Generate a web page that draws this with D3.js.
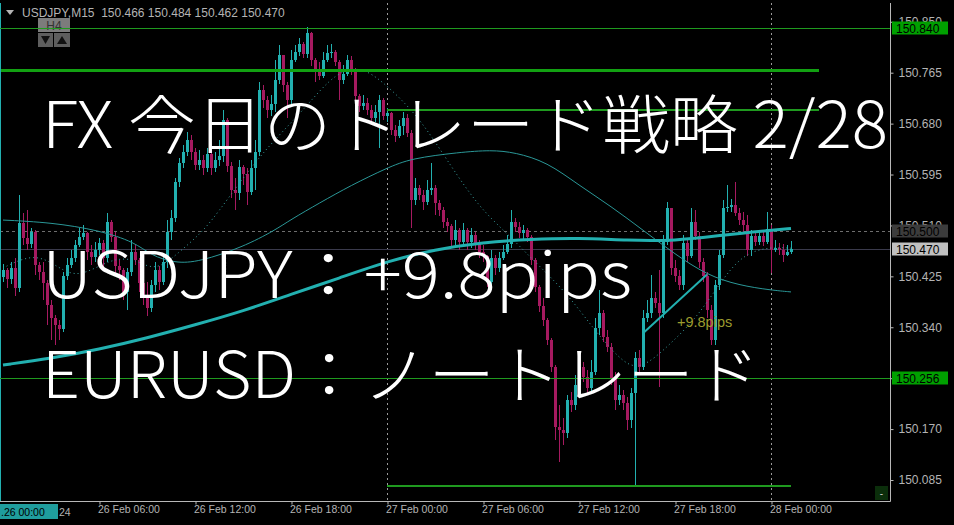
<!DOCTYPE html>
<html><head><meta charset="utf-8">
<script src="https://cdn.jsdelivr.net/npm/d3@7/dist/d3.min.js"></script>
<style>html,body{margin:0;padding:0;background:#000;overflow:hidden}</style>
</head><body>
<svg id="c" width="954" height="525"></svg>
<script>
// ---------- data (USDJPY M15) ----------
const symbolHeader = "USDJPY,M15  150.466 150.484 150.462 150.470";
const firstOpen = 150.424;
const closes = [
150.435,150.420,150.439,150.405,150.514,150.489,150.479,150.499,150.444,150.432,
150.414,150.377,150.355,150.344,150.337,150.425,150.444,150.455,150.477,150.490,
150.497,150.465,150.457,150.469,150.480,150.455,150.515,150.490,150.442,150.435,
150.399,150.432,150.465,150.452,150.414,150.389,150.372,150.410,150.435,150.416,
150.449,150.499,150.522,150.582,150.614,150.632,150.652,150.632,150.611,150.619,
150.606,150.629,150.606,150.619,150.626,150.686,150.609,150.569,150.564,150.607,
150.596,150.566,150.606,150.632,150.736,150.719,150.702,150.712,150.752,150.794,
150.744,150.719,150.786,150.799,150.813,150.796,150.831,150.786,150.766,150.759,
150.786,150.798,150.799,150.783,150.752,150.763,150.786,150.769,150.726,150.709,
150.714,150.702,150.689,150.699,150.719,150.692,150.697,150.669,150.659,150.676,
150.689,150.664,150.552,150.572,150.561,150.549,150.569,150.572,150.547,150.535,
150.515,150.509,150.485,150.502,150.482,150.502,150.482,150.494,150.480,150.465,
150.459,150.416,150.455,150.439,150.455,150.465,150.479,150.515,150.507,150.497,
150.502,150.490,150.452,150.407,150.375,150.352,150.318,150.273,150.173,150.168,
150.163,150.218,150.210,150.243,150.273,150.257,150.238,150.265,150.338,150.364,
150.324,150.307,150.255,150.218,150.227,150.213,150.185,150.230,150.288,150.273,
150.355,150.364,150.389,150.380,150.364,150.482,150.539,150.439,150.425,150.410,
150.480,150.459,150.515,150.492,150.449,150.425,150.369,150.318,150.410,150.460,
150.539,150.540,150.544,150.530,150.519,150.510,150.469,150.492,150.482,150.492,
150.482,150.504,150.469,150.472,150.469,150.460,150.466,150.470];
const highs = [
150.445,150.439,150.449,150.455,150.561,150.530,150.535,150.505,150.502,150.449,
150.449,150.419,150.385,150.360,150.352,150.432,150.455,150.469,150.485,150.505,
150.510,150.499,150.477,150.482,150.489,150.485,150.530,150.519,150.499,150.452,
150.439,150.439,150.485,150.477,150.455,150.422,150.416,150.419,150.449,150.442,
150.460,150.519,150.535,150.589,150.622,150.644,150.666,150.661,150.639,150.636,
150.627,150.639,150.636,150.632,150.652,150.702,150.689,150.616,150.589,150.619,
150.611,150.606,150.619,150.652,150.749,150.744,150.726,150.727,150.786,150.811,
150.794,150.749,150.803,150.811,150.823,150.816,150.841,150.833,150.789,150.783,
150.799,150.811,150.813,150.803,150.786,150.778,150.794,150.793,150.773,150.729,
150.727,150.722,150.711,150.711,150.727,150.722,150.706,150.699,150.677,150.686,
150.699,150.696,150.669,150.589,150.577,150.569,150.586,150.614,150.577,150.552,
150.540,150.522,150.512,150.519,150.505,150.514,150.505,150.505,150.499,150.485,
150.477,150.460,150.469,150.460,150.465,150.477,150.494,150.535,150.522,150.515,
150.510,150.505,150.494,150.455,150.410,150.389,150.355,150.322,150.277,150.210,
150.188,150.227,150.232,150.260,150.288,150.282,150.268,150.285,150.355,150.402,
150.369,150.335,150.313,150.265,150.243,150.235,150.223,150.238,150.298,150.302,
150.369,150.385,150.427,150.399,150.435,150.494,150.549,150.539,150.452,150.435,
150.494,150.485,150.539,150.535,150.499,150.455,150.432,150.377,150.419,150.469,
150.552,150.577,150.554,150.582,150.539,150.532,150.527,150.502,150.499,150.502,
150.499,150.532,150.510,150.485,150.480,150.479,150.477,150.484];
const lows = [
150.415,150.405,150.412,150.392,150.399,150.477,150.469,150.472,150.427,150.419,
150.385,150.344,150.318,150.310,150.318,150.332,150.419,150.439,150.449,150.474,
150.485,150.452,150.444,150.449,150.460,150.439,150.449,150.482,150.427,150.419,
150.385,150.369,150.425,150.444,150.399,150.377,150.358,150.365,150.399,150.402,
150.410,150.439,150.485,150.515,150.575,150.606,150.626,150.619,150.602,150.602,
150.594,150.599,150.594,150.599,150.609,150.616,150.599,150.556,150.535,150.552,
150.577,150.544,150.561,150.569,150.626,150.706,150.689,150.692,150.699,150.746,
150.732,150.689,150.712,150.783,150.793,150.789,150.789,150.776,150.749,150.752,
150.756,150.783,150.789,150.776,150.719,150.746,150.759,150.761,150.719,150.699,
150.702,150.694,150.677,150.682,150.639,150.686,150.682,150.661,150.649,150.656,
150.661,150.657,150.505,150.544,150.552,150.535,150.544,150.561,150.527,150.525,
150.505,150.499,150.472,150.477,150.469,150.475,150.469,150.472,150.469,150.455,
150.449,150.407,150.402,150.427,150.432,150.452,150.462,150.472,150.499,150.489,
150.485,150.482,150.444,150.399,150.365,150.342,150.310,150.265,150.151,150.115,
150.143,150.155,150.198,150.202,150.235,150.248,150.227,150.232,150.260,150.327,
150.315,150.298,150.243,150.202,150.210,150.202,150.168,150.171,150.075,150.265,
150.268,150.348,150.355,150.372,150.240,150.355,150.477,150.427,150.416,150.402,
150.402,150.449,150.455,150.485,150.439,150.416,150.355,150.310,150.310,150.402,
150.455,150.532,150.532,150.525,150.510,150.499,150.459,150.459,150.475,150.477,
150.475,150.479,150.430,150.465,150.460,150.449,150.459,150.462];

// moving averages (bar index -> price)
const maSlowBars = [0,12,24,36,48,60,72,84,96,108,120,132,144,156,168,180,192,197];
const maSlowVals = [150.277,150.288,150.303,150.322,150.344,150.367,150.395,150.422,150.450,150.470,150.482,150.487,150.489,150.485,150.484,150.494,150.502,150.505];
const maMidBars = [0,12,24,33,37,43,49,60,68,72,79,87,96,102,114,122,128,136,144,152,160,168,176,184,192,197];
const maMidVals = [150.519,150.515,150.502,150.482,150.460,150.447,150.449,150.474,150.502,150.520,150.547,150.577,150.606,150.622,150.632,150.636,150.632,150.616,150.577,150.542,150.502,150.462,150.427,150.410,150.402,150.399];
const maFastBars = [0,8,14,19,27,33,38,44,49,53,64,74,82,87,91,96,104,111,119,126,133,141,148,154,159,167,174,181,186,192,197];
const maFastVals = [150.439,150.465,150.439,150.422,150.455,150.455,150.432,150.465,150.494,150.524,150.627,150.694,150.758,150.773,150.769,150.744,150.691,150.619,150.540,150.497,150.449,150.397,150.334,150.288,150.265,150.313,150.360,150.432,150.465,150.474,150.472];

// horizontal levels
const levelPrices = [150.840, 150.769, 150.702, 150.256, 150.075];
const levelLabels = ["150.840", null, null, "150.256", null];
const dashedLevel = 150.500;
const bidPrice = 150.470;

// trade
const tradeBars = [160, 176];
const tradePrices = [150.330, 150.428];
const tradeLabel = "+9.8pips";

// axes
const priceTicks = [150.850,150.765,150.680,150.595,150.510,150.425,150.340,150.255,150.170,150.085];
const hiddenTickLabels = [150.255];
const timeTickBars = [24,48,72,96,120,144,168,192];
const timeTickLabels = ["26 Feb 06:00","26 Feb 12:00","26 Feb 18:00","27 Feb 00:00","27 Feb 06:00","27 Feb 12:00","27 Feb 18:00","28 Feb 00:00"];
const daySeparatorBars = [96,192];

const titleLines = ["FX 今日のトレード戦略 2/28", "USDJPY：+9.8pips", "EURUSD：ノートレード"];

// ---------- drawing ----------
const svg = d3.select("#c");
const plotRight = 890, plotBottom = 501, plotTop = 3;
const x = d3.scaleLinear().domain([0,197]).range([3,791]);
const y = d3.scaleLinear().domain([150.085,150.765]).range([480,72.7]);
const BULL = "#22b0b0", BEAR = "#a61a60";
const FONT = "Liberation Sans, Arial, sans-serif";

svg.append("rect").attr("width",954).attr("height",525).attr("fill","#000");
svg.append("defs").append("clipPath").attr("id","plot")
  .append("rect").attr("x",0).attr("y",plotTop).attr("width",plotRight).attr("height",plotBottom-plotTop);
const g = svg.append("g").attr("clip-path","url(#plot)");

// day separators
g.selectAll("line.sep").data(daySeparatorBars).join("line")
  .attr("x1",d=>x(d)+0.5).attr("x2",d=>x(d)+0.5).attr("y1",plotTop).attr("y2",plotBottom)
  .attr("stroke","#9a9a9a").attr("stroke-width",1).attr("stroke-dasharray","2,3");

// dashed level & bid
g.append("line").attr("x1",0).attr("x2",plotRight).attr("y1",Math.round(y(dashedLevel))+0.5).attr("y2",Math.round(y(dashedLevel))+0.5)
  .attr("stroke","#6e6e6e").attr("stroke-dasharray","3,3");
g.append("line").attr("x1",0).attr("x2",plotRight).attr("y1",Math.round(y(bidPrice))+0.5).attr("y2",Math.round(y(bidPrice))+0.5)
  .attr("stroke","#3a3a4c");

// candles
const bars = closes.map((c,i)=>({i, o: i ? closes[i-1] : firstOpen, h: highs[i], l: lows[i], c}));
const cg = g.append("g").attr("shape-rendering","crispEdges");
cg.selectAll("rect.w").data(bars).join("rect")
  .attr("x",d=>x(d.i)).attr("width",1)
  .attr("y",d=>y(d.h)).attr("height",d=>Math.max(1,y(d.l)-y(d.h)))
  .attr("fill",d=>d.c>=d.o?BULL:BEAR);
cg.selectAll("rect.b").data(bars).join("rect")
  .attr("x",d=>x(d.i)-1).attr("width",3)
  .attr("y",d=>y(Math.max(d.o,d.c))).attr("height",d=>Math.max(1,Math.abs(y(d.o)-y(d.c))))
  .attr("fill",d=>d.c>=d.o?BULL:BEAR);

// moving averages
const line = d3.line().x(d=>x(d[0])).y(d=>y(d[1])).curve(d3.curveBasis);
g.append("path").attr("d",line(maMidBars.map((b,k)=>[b,maMidVals[k]])))
  .attr("fill","none").attr("stroke","#2a9797").attr("stroke-width",1);
g.append("path").attr("d",line(maFastBars.map((b,k)=>[b,maFastVals[k]])))
  .attr("fill","none").attr("stroke","#3aa3a3").attr("stroke-width",1).attr("stroke-dasharray","1,3");
g.append("path").attr("d",line(maSlowBars.map((b,k)=>[b,maSlowVals[k]])))
  .attr("fill","none").attr("stroke","#22b0b0").attr("stroke-width",3);

// left vertical line (26 Feb 00:00)
g.append("line").attr("x1",x(-1)+1).attr("x2",x(-1)+1).attr("y1",plotTop).attr("y2",plotBottom)
  .attr("stroke","#22b0b0").attr("stroke-width",2);

// green levels
const levelSpan = [[-1,224],[-0.5,204],[96,204],[-1,224],[96,197]];
const levelWidth = [1,3,2,1,2];
const levelColor = ["#1f9a1f","#12a012","#1f9a1f","#1f9a1f","#1f9a1f"];
levelPrices.forEach((p,k)=>{
  const yy = Math.round(y(p)) + (levelWidth[k]%2 ? 0.5 : 0);
  g.append("line").attr("x1",x(levelSpan[k][0])).attr("x2",Math.min(plotRight,x(levelSpan[k][1])))
    .attr("y1",yy).attr("y2",yy).attr("stroke",levelColor[k]).attr("stroke-width",levelWidth[k]);
});

// trade line and label
g.append("line").attr("x1",x(tradeBars[0])).attr("y1",y(tradePrices[0]))
  .attr("x2",x(tradeBars[1])).attr("y2",y(tradePrices[1]))
  .attr("stroke","#22b0b0").attr("stroke-width",2);
g.append("text").attr("x",x(168.5)).attr("y",y(150.341)).text(tradeLabel)
  .attr("fill","#9c9c2e").attr("font-family",FONT).attr("font-size",14.5);

// big overlay text
const big = [{x:42,yb:148,w:846},{x:42,yb:298,w:590},{x:42,yb:398,w:718}];
titleLines.forEach((t,k)=>{
  svg.append("text").attr("x",big[k].x).attr("y",big[k].yb).text(t)
    .attr("fill","#fff").attr("font-family","'Noto Sans CJK JP', 'Noto Sans', sans-serif")
    .attr("font-weight",300).attr("font-size",64)
    .attr("textLength",big[k].w).attr("lengthAdjust","spacingAndGlyphs");
});

// axes frame
svg.append("line").attr("x1",plotRight+0.5).attr("x2",plotRight+0.5).attr("y1",plotTop).attr("y2",plotBottom+0.5)
  .attr("stroke","#b8b8b8");
svg.append("line").attr("x1",0).attr("x2",plotRight+0.5).attr("y1",plotBottom+0.5).attr("y2",plotBottom+0.5)
  .attr("stroke","#b8b8b8");

// right price axis
const ya = svg.append("g").attr("transform",`translate(${plotRight+0.5},0)`)
  .call(d3.axisRight(y).tickValues(priceTicks).tickSize(3).tickPadding(5)
    .tickFormat(d=>hiddenTickLabels.includes(d)?"":d3.format(".3f")(d)));
ya.select(".domain").remove();
ya.selectAll("line").attr("stroke","#b8b8b8");
ya.selectAll("text").attr("fill","#b4b4b4").attr("font-family",FONT).attr("font-size",12);

// price boxes
const boxes = [
  {p:levelPrices[0], t:levelLabels[0], bg:"#00a000", fg:"#000"},
  {p:dashedLevel, t:"150.500", bg:"#3c3c3c", fg:"#000"},
  {p:bidPrice, t:"150.470", bg:"#c0c0c0", fg:"#000"},
  {p:levelPrices[3], t:levelLabels[3], bg:"#00a000", fg:"#000"}
];
boxes.forEach(b=>{
  const cy = y(b.p);
  svg.append("rect").attr("x",892).attr("y",Math.round(cy)-6.5).attr("width",56).attr("height",13).attr("fill",b.bg);
  svg.append("text").attr("x",896).attr("y",Math.round(cy)+5).text(b.t).attr("fill",b.fg)
    .attr("font-family",FONT).attr("font-size",12);
});

// bottom time axis
const xa = svg.append("g").attr("transform",`translate(0.5,${plotBottom+0.5})`)
  .call(d3.axisBottom(x).tickValues(timeTickBars).tickSize(3).tickFormat((d,i)=>timeTickLabels[i]));
xa.select(".domain").remove();
xa.selectAll("line").attr("stroke","#b8b8b8");
xa.selectAll("text").attr("text-anchor","start").attr("dx",-2).attr("dy","0.55em")
  .attr("fill","#b4b4b4").attr("font-family",FONT).attr("font-size",10.5);

// left date box
svg.append("rect").attr("x",0).attr("y",504).attr("width",58).attr("height",15).attr("fill","#1f9d9d");
svg.append("text").attr("x",1).attr("y",516).text(".26 00:00").attr("fill","#000")
  .attr("font-family",FONT).attr("font-size",10.5);
svg.append("text").attr("x",59).attr("y",516).text("24").attr("fill","#b4b4b4")
  .attr("font-family",FONT).attr("font-size",10.5);

// header
svg.append("path").attr("d","M6,10 L14,10 L10,15 Z").attr("fill","#b4b4b4");
svg.append("text").attr("x",22).attr("y",17).text(symbolHeader).attr("fill","#b4b4b4")
  .attr("font-family",FONT).attr("font-size",12).style("white-space","pre");

// H4 buttons
svg.append("rect").attr("x",38).attr("y",18).attr("width",32).attr("height",14).attr("fill","#7c7c7c");
svg.append("text").attr("x",54).attr("y",29.5).attr("text-anchor","middle").text("H4").attr("fill","#333")
  .attr("font-family",FONT).attr("font-size",12);
svg.append("rect").attr("x",38).attr("y",33).attr("width",15).attr("height",14).attr("fill","#5e5e5e");
svg.append("rect").attr("x",54).attr("y",33).attr("width",16).attr("height",14).attr("fill","#5e5e5e");
svg.append("path").attr("d","M41,36 L50,36 L45.5,44 Z").attr("fill","#111");
svg.append("path").attr("d","M57,44 L67,44 L62,36 Z").attr("fill","#111");
svg.append("line").attr("x1",38).attr("x2",70).attr("y1",Math.round(y(levelPrices[0]))+0.5).attr("y2",Math.round(y(levelPrices[0]))+0.5)
  .attr("stroke","#1f9a1f");

// minimize button bottom right
svg.append("rect").attr("x",875).attr("y",486).attr("width",13).attr("height",14).attr("fill","#0b2e0b");
svg.append("text").attr("x",881.5).attr("y",497).attr("text-anchor","middle").text("-").attr("fill","#ccc")
  .attr("font-family",FONT).attr("font-size",10);
</script>
</body></html>
